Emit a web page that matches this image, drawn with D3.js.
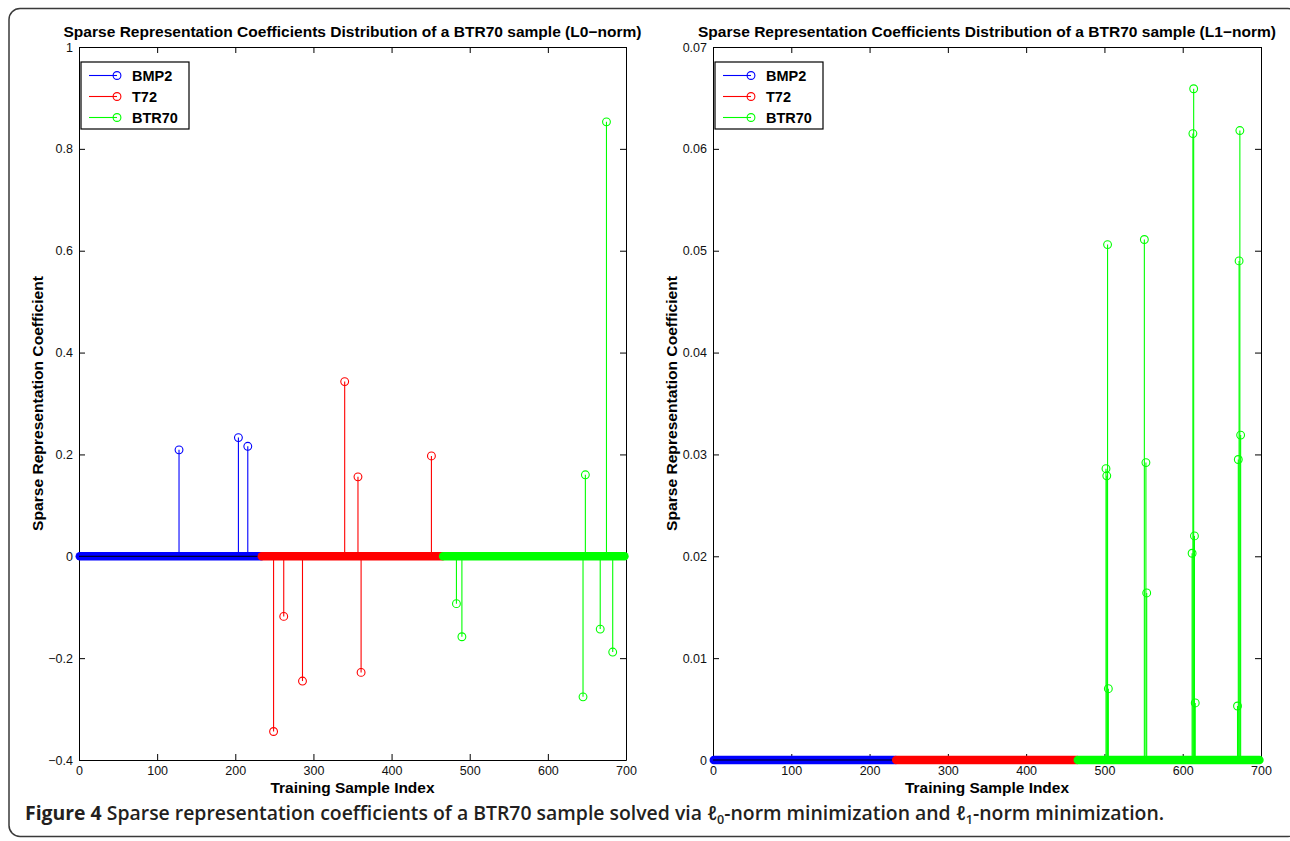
<!DOCTYPE html>
<html>
<head>
<meta charset="utf-8">
<script src="https://cdn.jsdelivr.net/npm/d3@7"></script>
<style>
  body { margin: 0; background: #fff; }
  svg { display: block; }
</style>
</head>
<body>
<script>
// training classes and where their samples sit on the index axis
var classNames = ["BMP2", "T72", "BTR70"];
var classColors = ["#0000ff", "#ff0000", "#00ff00"];
var classRanges = [[1, 233], [234, 465], [466, 698]];

var xTicks = [0, 100, 200, 300, 400, 500, 600, 700];
var l0Ticks = [-0.4, -0.2, 0, 0.2, 0.4, 0.6, 0.8, 1];
var l1Ticks = [0, 0.01, 0.02, 0.03, 0.04, 0.05, 0.06, 0.07];

// non-zero coefficients [sample index, value], L0-norm solution
var l0BMP2 = [[128, 0.209], [204, 0.233], [216, 0.216]];
var l0T72 = [[249, -0.344], [262, -0.118], [286, -0.245], [340, 0.343],
  [357, 0.156], [361, -0.228], [451, 0.197]];
var l0BTR70 = [[483, -0.093], [490, -0.158], [645, -0.276], [648, 0.160],
  [667, -0.143], [675, 0.853], [683, -0.188]];

// non-zero coefficients, L1-norm solution
var l1BMP2 = [];
var l1T72 = [];
var l1BTR70 = [[502, 0.0286], [503, 0.0279], [504, 0.0506], [505, 0.0070],
  [551, 0.0511], [553, 0.0292], [554, 0.0164],
  [612, 0.0203], [613, 0.0615], [614, 0.0659], [615, 0.0220], [616, 0.0056],
  [670, 0.0053], [671, 0.0295], [672, 0.0490], [673, 0.0618], [674, 0.0319]];

var tickFont = "'Liberation Sans', Arial, Helvetica, sans-serif";
var fmt = d3.format("~g");

var svg = d3.select("body").append("svg")
  .attr("width", 1290)
  .attr("height", 841);

// figure frame
svg.append("rect")
  .attr("x", 9).attr("y", 8.5)
  .attr("width", 1290).attr("height", 828)
  .attr("rx", 11)
  .attr("fill", "none")
  .attr("stroke", "#3a3a3a")
  .attr("stroke-width", 1.5);

function drawPanel(left, right, top, bottom, yDomain, yTicks, title, series) {
  var x = d3.scaleLinear().domain([0, 700]).range([left, right]);
  var y = d3.scaleLinear().domain(yDomain).range([bottom, top]);
  var g = svg.append("g");

  // axes box with inward ticks
  var axB = g.append("g").attr("transform", "translate(0," + bottom + ")")
    .call(d3.axisBottom(x).tickValues(xTicks).tickFormat(fmt)
      .tickSizeInner(-6).tickSizeOuter(0).tickPadding(6));
  var axT = g.append("g").attr("transform", "translate(0," + top + ")")
    .call(d3.axisTop(x).tickValues(xTicks).tickFormat("")
      .tickSizeInner(-6).tickSizeOuter(0));
  var axL = g.append("g").attr("transform", "translate(" + left + ",0)")
    .call(d3.axisLeft(y).tickValues(yTicks).tickFormat(fmt)
      .tickSizeInner(-6).tickSizeOuter(0).tickPadding(6));
  var axR = g.append("g").attr("transform", "translate(" + right + ",0)")
    .call(d3.axisRight(y).tickValues(yTicks).tickFormat("")
      .tickSizeInner(-6).tickSizeOuter(0));
  [axB, axT, axL, axR].forEach(function (a) {
    a.selectAll("path, line").attr("stroke", "#000").attr("stroke-width", 1);
    a.selectAll("text").attr("fill", "#111")
      .style("font-family", tickFont).style("font-size", "12.5px");
  });

  // stems, series by series
  series.forEach(function (s, i) {
    var sg = g.append("g");
    sg.append("line")
      .attr("x1", x(s.range[0])).attr("x2", x(s.range[1]))
      .attr("y1", y(0)).attr("y2", y(0))
      .attr("stroke", s.color)
      .attr("stroke-width", 8.5)
      .attr("stroke-linecap", "round");
    sg.selectAll(".stem").data(s.points).enter().append("line")
      .attr("x1", function (d) { return x(d[0]); })
      .attr("x2", function (d) { return x(d[0]); })
      .attr("y1", y(0))
      .attr("y2", function (d) { return y(d[1]); })
      .attr("stroke", s.color)
      .attr("stroke-width", 1.1);
    sg.selectAll(".mark").data(s.points).enter().append("circle")
      .attr("cx", function (d) { return x(d[0]); })
      .attr("cy", function (d) { return y(d[1]); })
      .attr("r", 3.9)
      .attr("fill", "none")
      .attr("stroke", s.color)
      .attr("stroke-width", 1.1);
    if (i === 0) {
      // baseline, only left showing over the first class
      sg.append("line")
        .attr("x1", x(0)).attr("x2", x(s.range[1]))
        .attr("y1", y(0)).attr("y2", y(0))
        .attr("stroke", "#000").attr("stroke-width", 1);
    }
  });

  // title and axis labels
  var mid = (left + right) / 2;
  g.append("text")
    .attr("x", mid).attr("y", 37)
    .attr("text-anchor", "middle")
    .attr("textLength", 578).attr("lengthAdjust", "spacingAndGlyphs")
    .style("font-family", tickFont).style("font-weight", "bold").style("font-size", "15px")
    .text(title);
  g.append("text")
    .attr("x", mid).attr("y", 793)
    .attr("text-anchor", "middle")
    .attr("textLength", 164).attr("lengthAdjust", "spacingAndGlyphs")
    .style("font-family", tickFont).style("font-weight", "bold").style("font-size", "15px")
    .text("Training Sample Index");
  g.append("text")
    .attr("transform", "translate(" + (left - 36) + "," + ((top + bottom) / 2) + ") rotate(-90)")
    .attr("text-anchor", "middle")
    .attr("textLength", 255).attr("lengthAdjust", "spacingAndGlyphs")
    .style("font-family", tickFont).style("font-weight", "bold").style("font-size", "15px")
    .text("Sparse Representation Coefficient");

  // legend
  var lg = g.append("g").attr("transform", "translate(" + (left + 2) + "," + (top + 15) + ")");
  lg.append("rect")
    .attr("width", 108).attr("height", 67)
    .attr("fill", "#fff").attr("stroke", "#000").attr("stroke-width", 1.2);
  series.forEach(function (s, i) {
    var ly = 13.5 + i * 21;
    lg.append("line")
      .attr("x1", 8).attr("x2", 36).attr("y1", ly).attr("y2", ly)
      .attr("stroke", s.color).attr("stroke-width", 1.1);
    lg.append("circle")
      .attr("cx", 36).attr("cy", ly).attr("r", 3.9)
      .attr("fill", "none").attr("stroke", s.color).attr("stroke-width", 1.1);
    lg.append("text")
      .attr("x", 51).attr("y", ly + 5.5)
      .style("font-family", tickFont).style("font-weight", "bold").style("font-size", "14.5px")
      .text(s.name);
  });
}

function makeSeries(pointSets) {
  return classNames.map(function (n, i) {
    return { name: n, color: classColors[i], range: classRanges[i], points: pointSets[i] };
  });
}

drawPanel(79, 626, 47, 760, [-0.4, 1], l0Ticks,
  "Sparse Representation Coefficients Distribution of a BTR70 sample (L0\u2212norm)",
  makeSeries([l0BMP2, l0T72, l0BTR70]));

drawPanel(713, 1261, 47, 760, [0, 0.07], l1Ticks,
  "Sparse Representation Coefficients Distribution of a BTR70 sample (L1\u2212norm)",
  makeSeries([l1BMP2, l1T72, l1BTR70]));

// caption
var cap = svg.append("text")
  .attr("x", 25).attr("y", 819.5)
  .attr("fill", "#231f20")
  .style("font-family", "'Open Sans', 'Noto Sans', sans-serif")
  .style("font-size", "17px");
cap.append("tspan").style("font-weight", "bold").text("Figure 4 ");
cap.append("tspan").style("font-weight", "600")
  .text("Sparse representation coefficients of a BTR70 sample solved via \u2113");
cap.append("tspan").style("font-weight", "600").style("font-size", "11px").attr("dy", 4).text("0");
cap.append("tspan").style("font-weight", "600").attr("dy", -4).text("-norm minimization and \u2113");
cap.append("tspan").style("font-weight", "600").style("font-size", "11px").attr("dy", 4).text("1");
cap.append("tspan").style("font-weight", "600").attr("dy", -4).text("-norm minimization.");
var w = cap.node().getComputedTextLength();
cap.style("font-size", (17 * 1140 / w).toFixed(2) + "px");
cap.selectAll("tspan").filter(function () { return this.style.fontSize === "11px"; })
  .style("font-size", (11 * 1140 / w).toFixed(2) + "px");
</script>
</body>
</html>
